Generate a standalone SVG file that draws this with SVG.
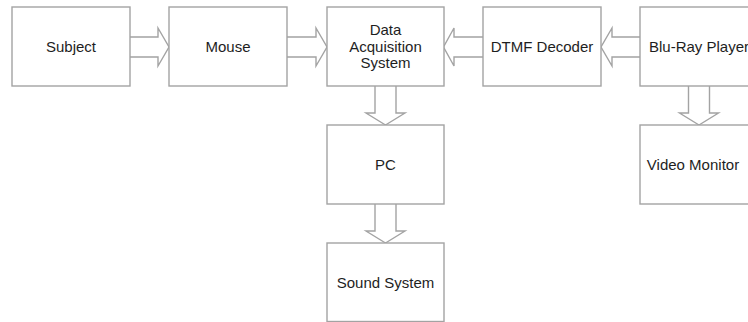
<svg xmlns="http://www.w3.org/2000/svg" width="748" height="322" viewBox="0 0 748 322">
<style>
.box{fill:#fff;stroke:#a3a3a3;stroke-width:1.4}
.arr{fill:#fff;stroke:#a3a3a3;stroke-width:1.4;stroke-linejoin:miter}
.t{font-family:"Liberation Sans",Arial,sans-serif;font-size:15px;fill:#1e1e1e;text-anchor:middle}
</style>
<rect width="748" height="322" fill="#fff"/>
<g id="connectors">
<path class="arr" d="M130,37 H158 V28 L169,47 L158,66 V57 H130"/>
<path class="arr" d="M287,37 H316 V28 L327,47 L316,66 V57 H287"/>
<path class="arr" d="M483,37 H454 V28 L443.5,47 L454,66 V57 H483"/>
<path class="arr" d="M640,37 H612 V28 L601,47 L612,66 V57 H640"/>
<path class="arr" d="M375,86 V113 H366 L385.5,125 L405,113 H396 V86"/>
<path class="arr" d="M375,204 V231 H366 L385.5,243 L405,231 H396 V204"/>
<path class="arr" d="M688.5,86 V113 H679.5 L699,125 L718.5,113 H709.5 V86"/>
</g>
<g id="subject"><rect class="box" x="12" y="7" width="118" height="79"/><text class="t" x="71" y="52">Subject</text></g>
<g id="mouse"><rect class="box" x="169" y="7" width="118" height="79"/><text class="t" x="228" y="52">Mouse</text></g>
<g id="das"><rect class="box" x="327" y="7" width="117" height="79"/><text class="t" x="385.5" y="35">Data</text><text class="t" x="385.5" y="51.5">Acquisition</text><text class="t" x="385.5" y="68">System</text></g>
<g id="dtmf"><rect class="box" x="483" y="7" width="118" height="79"/><text class="t" x="542" y="52">DTMF Decoder</text></g>
<g id="bluray"><rect class="box" x="640" y="7" width="118" height="79"/><text class="t" x="699" y="52">Blu-Ray Player</text></g>
<g id="pc"><rect class="box" x="327" y="125" width="117" height="79"/><text class="t" x="385.5" y="170">PC</text></g>
<g id="sound"><rect class="box" x="327" y="243" width="117" height="78.5"/><text class="t" x="385.5" y="287.5">Sound System</text></g>
<g id="monitor"><rect class="box" x="640" y="125" width="118" height="79"/><text class="t" x="693" y="170">Video Monitor</text></g>
</svg>
